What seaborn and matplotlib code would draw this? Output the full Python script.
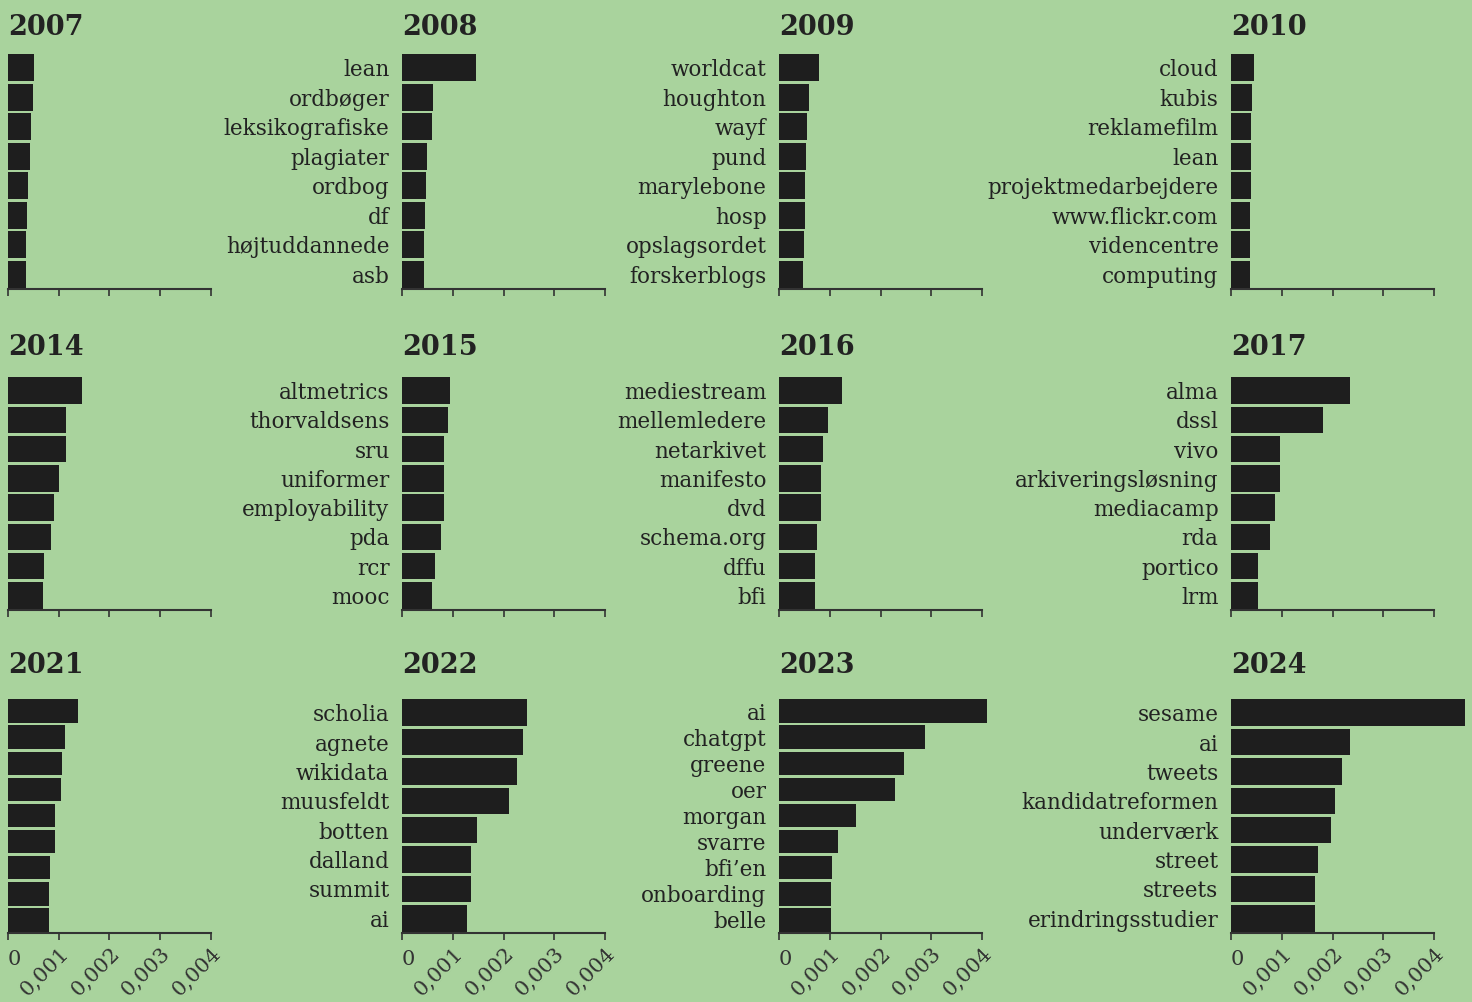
import matplotlib
matplotlib.use("Agg")
import matplotlib.pyplot as plt
import matplotlib.transforms as mtransforms
import pandas as pd
import seaborn as sns

# term frequencies per year (first column terms are not shown in the original)
years = ["2007", "2008", "2009", "2010",
         "2014", "2015", "2016", "2017",
         "2021", "2022", "2023", "2024"]

terms_2007 = ["t1", "t2", "t3", "t4", "t5", "t6", "t7", "t8"]
vals_2007 = [0.00051, 0.00050, 0.00046, 0.00044, 0.00040, 0.00038, 0.00036, 0.00036]

terms_2008 = ["lean", "ordbøger", "leksikografiske", "plagiater", "ordbog", "df",
              "højtuddannede", "asb"]
vals_2008 = [0.00145, 0.00061, 0.00059, 0.00050, 0.00048, 0.00046, 0.00044, 0.00044]

terms_2009 = ["worldcat", "houghton", "wayf", "pund", "marylebone", "hosp",
              "opslagsordet", "forskerblogs"]
vals_2009 = [0.00079, 0.00059, 0.00055, 0.00053, 0.00051, 0.00051, 0.00050, 0.00048]

terms_2010 = ["cloud", "kubis", "reklamefilm", "lean", "projektmedarbejdere",
              "www.flickr.com", "videncentre", "computing"]
vals_2010 = [0.00046, 0.00042, 0.00040, 0.00040, 0.00040, 0.00038, 0.00038, 0.00038]

terms_2014 = ["t1", "t2", "t3", "t4", "t5", "t6", "t7", "t8"]
vals_2014 = [0.00145, 0.00115, 0.00115, 0.00101, 0.00091, 0.00085, 0.00071, 0.00069]

terms_2015 = ["altmetrics", "thorvaldsens", "sru", "uniformer", "employability",
              "pda", "rcr", "mooc"]
vals_2015 = [0.00095, 0.00091, 0.00083, 0.00083, 0.00083, 0.00077, 0.00065, 0.00059]

terms_2016 = ["mediestream", "mellemledere", "netarkivet", "manifesto", "dvd",
              "schema.org", "dffu", "bfi"]
vals_2016 = [0.00125, 0.00097, 0.00087, 0.00083, 0.00083, 0.00075, 0.00071, 0.00071]

terms_2017 = ["alma", "dssl", "vivo", "arkiveringsløsning", "mediacamp", "rda",
              "portico", "lrm"]
vals_2017 = [0.00234, 0.00182, 0.00097, 0.00097, 0.00087, 0.00077, 0.00053, 0.00053]

terms_2021 = ["t1", "t2", "t3", "t4", "t5", "t6", "t7", "t8", "t9"]
vals_2021 = [0.00137, 0.00113, 0.00107, 0.00105, 0.00092, 0.00092, 0.00083,
             0.00081, 0.00081]

terms_2022 = ["scholia", "agnete", "wikidata", "muusfeldt", "botten", "dalland",
              "summit", "ai"]
vals_2022 = [0.00246, 0.00238, 0.00226, 0.00211, 0.00147, 0.00135, 0.00135, 0.00129]

terms_2023 = ["ai", "chatgpt", "greene", "oer", "morgan", "svarre", "bfi’en",
              "onboarding", "belle"]
vals_2023 = [0.00410, 0.00287, 0.00246, 0.00228, 0.00152, 0.00117, 0.00105,
             0.00102, 0.00102]

terms_2024 = ["sesame", "ai", "tweets", "kandidatreformen", "underværk", "street",
              "streets", "erindringsstudier"]
vals_2024 = [0.00461, 0.00234, 0.00219, 0.00204, 0.00198, 0.00171, 0.00165, 0.00165]

terms = [terms_2007, terms_2008, terms_2009, terms_2010,
         terms_2014, terms_2015, terms_2016, terms_2017,
         terms_2021, terms_2022, terms_2023, terms_2024]
values = [vals_2007, vals_2008, vals_2009, vals_2010,
          vals_2014, vals_2015, vals_2016, vals_2017,
          vals_2021, vals_2022, vals_2023, vals_2024]

x_ticks = [0, 0.001, 0.002, 0.003, 0.004]
x_ticklabels = ["0", "0,001", "0,002", "0,003", "0,004"]

BG = "#a9d39d"
BAR = "#1e1e1e"
INK = "#222222"

sns.set_style("ticks")
plt.rcParams["font.family"] = ["DejaVu Serif"]
plt.rcParams["text.color"] = INK
plt.rcParams["axes.labelcolor"] = INK
plt.rcParams["xtick.color"] = "#333333"
plt.rcParams["ytick.color"] = INK

W, H = 1472, 1002
fig = plt.figure(figsize=(W / 100, H / 100), dpi=100, facecolor=BG)

col_left = [8, 402, 779, 1231]
row_top = [53, 376, 698]
row_axis = [289, 610, 933]
title_base = [35, 355, 673]
ax_w = 203

# nudge rotated tick labels a little right and down
nudge = mtransforms.ScaledTranslation(7 / 100, -6 / 100, fig.dpi_scale_trans)
nudge0 = mtransforms.ScaledTranslation(0, -6 / 100, fig.dpi_scale_trans)

for i, year in enumerate(years):
    r, c = divmod(i, 4)
    left = col_left[c]
    top = row_top[r]
    bottom = row_axis[r]
    ax = fig.add_axes([left / W, 1 - bottom / H, ax_w / W, (bottom - top) / H])
    ax.set_facecolor(BG)
    ax.patch.set_alpha(0)

    df = pd.DataFrame({"term": terms[i], "value": values[i]})
    sns.barplot(data=df, x="value", y="term", ax=ax, color=BAR, width=0.9,
                saturation=1, orient="h")
    for p in ax.patches:
        p.set_clip_on(False)
        p.set_edgecolor("none")

    ax.set_xlim(0, 0.004)
    ax.set_ylim(len(terms[i]) - 0.5, -0.5)
    ax.set_xlabel("")
    ax.set_ylabel("")
    for s in ["top", "right", "left"]:
        ax.spines[s].set_visible(False)
    ax.spines["bottom"].set_color("#333333")
    ax.spines["bottom"].set_linewidth(1.5)

    ax.set_xticks(x_ticks)
    ax.tick_params(axis="x", length=5, width=1.2, direction="out", pad=3)
    ax.tick_params(axis="y", length=0, pad=9, labelsize=15.5)

    if c == 0:
        ax.set_yticklabels([])

    if r == 2:
        ax.set_xticklabels(x_ticklabels, fontsize=15)
        for j, lab in enumerate(ax.get_xticklabels()):
            if j == 0:
                lab.set_rotation(0)
                lab.set_ha("left")
                lab.set_transform(lab.get_transform() + nudge0)
            else:
                lab.set_rotation(45)
                lab.set_ha("right")
                lab.set_va("center")
                lab.set_rotation_mode("anchor")
                lab.set_transform(lab.get_transform() + nudge)
    else:
        ax.set_xticklabels([])

    fig.text(left / W, 1 - title_base[r] / H, year, ha="left", va="baseline",
             fontsize=19.5, fontweight="bold", color=INK)

fig.savefig("out.png", dpi=100, facecolor=BG)
